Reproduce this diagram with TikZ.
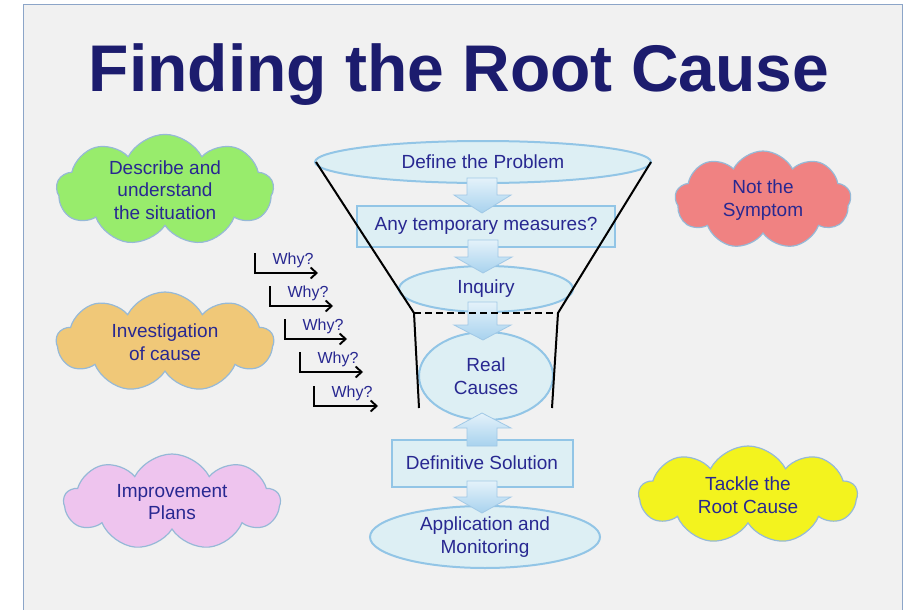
\documentclass[tikz,border=0pt]{standalone}
\usepackage{fontspec}
\setmainfont{Liberation Sans}
\usetikzlibrary{shapes.symbols,shapes.geometric,arrows.meta}
\definecolor{panelbg}{RGB}{241,241,241}
\definecolor{panelline}{RGB}{140,165,200}
\definecolor{titlecol}{RGB}{28,28,110}
\definecolor{txtcol}{RGB}{40,40,145}
\definecolor{ellfill}{RGB}{221,239,244}
\definecolor{ellline}{RGB}{146,197,230}
\definecolor{arrtop}{RGB}{228,242,250}
\definecolor{arrbot}{RGB}{168,210,238}
\definecolor{arrline}{RGB}{160,200,230}
\definecolor{cloudline}{RGB}{150,185,215}
\definecolor{cgreen}{RGB}{152,236,108}
\definecolor{corange}{RGB}{240,200,120}
\definecolor{cpink}{RGB}{238,196,238}
\definecolor{cred}{RGB}{240,130,130}
\definecolor{cyellow}{RGB}{243,243,30}
\tikzset{
  txt/.style={text=txtcol,font=\fontsize{19}{22.5}\selectfont,align=center},
  ellbox/.style={txt,ellipse,draw=ellline,line width=2pt,fill=ellfill,inner sep=0pt},
  rectbox/.style={txt,rectangle,draw=ellline,line width=2pt,fill=ellfill,inner sep=0pt},
  blockarrow/.style={draw=arrline,line width=0.8pt,top color=arrtop,bottom color=arrbot},
  funnel/.style={black,line width=2pt},
  cloudbox/.style={txt,cloud,cloud puffs=9,cloud puff arc=125,cloud ignores aspect,draw=cloudline,line width=1.2pt,inner sep=0pt},
  whyline/.style={black,line width=1.9pt,-{Straight Barb[length=6pt,width=11pt]}},
  whytxt/.style={text=txtcol,font=\fontsize{16}{18}\selectfont}
}
\begin{document}
\begin{tikzpicture}[x=1pt,y=-1pt]
\useasboundingbox (0,0) rectangle (913,610);
\fill[panelbg] (23,5) rectangle (902,610);
\draw[panelline,line width=1pt] (23,610) -- (23,5) -- (902,5) -- (902,610);

\node[titlecol,font=\fontsize{66}{70}\selectfont\bfseries,anchor=base] (title) at (459,92) {Finding the Root Cause};

% clouds
\node[cloudbox,fill=cgreen,minimum width=217,minimum height=100] (c1) at (165,190) {Describe and\\understand\\the situation};
\node[cloudbox,fill=corange,minimum width=217,minimum height=100] (c2) at (165,342) {Investigation\\of cause};
\node[cloudbox,fill=cpink,minimum width=216,minimum height=96] (c3) at (172,502) {Improvement\\Plans};
\node[cloudbox,fill=cred,minimum width=176,minimum height=98] (c4) at (763,200) {Not the\\Symptom};
\node[cloudbox,fill=cyellow,minimum width=218,minimum height=98] (c5) at (748,495) {Tackle the\\Root Cause};

% central nodes
\node[ellbox,minimum width=336,minimum height=42] (define) at (483,162) {Define the Problem};
\node[rectbox,minimum width=258,minimum height=41] (temp) at (486,226) {Any temporary measures?};
\node[ellbox,minimum width=174,minimum height=46] (inq) at (486,289) {Inquiry};
\node[ellbox,minimum width=134,minimum height=88] (real) at (486,376) {Real\\Causes};
\node[rectbox,minimum width=181,minimum height=47] (defsol) at (482,463) {Definitive Solution};
\node[ellbox,minimum width=230,minimum height=62] (app) at (485,537) {Application and\\Monitoring};

% block arrows
\draw[blockarrow] (467,178) -- (497,178) -- (497,195) -- (511,195) -- (482,213) -- (454,195) -- (467,195) -- cycle;
\draw[blockarrow] (468,240) -- (498,240) -- (498,257) -- (512,257) -- (483,273) -- (455,257) -- (468,257) -- cycle;
\draw[blockarrow] (468,302) -- (497,302) -- (497,325) -- (511,325) -- (483,340) -- (454,325) -- (468,325) -- cycle;
\draw[blockarrow] (467,446) -- (497,446) -- (497,428) -- (511,428) -- (482,413) -- (454,428) -- (467,428) -- cycle;
\draw[blockarrow] (467,481) -- (497,481) -- (497,497) -- (511,497) -- (482,513) -- (454,497) -- (467,497) -- cycle;

% funnel
\coordinate (fl1) at (316,162);
\coordinate (fl2) at (414,313);
\coordinate (fl3) at (419,408);
\coordinate (fr1) at (651,162);
\coordinate (fr2) at (558,313);
\coordinate (fr3) at (552,408);
\draw[funnel] (fl1) -- (fl2) -- (fl3);
\draw[funnel] (fr1) -- (fr2) -- (fr3);
\draw[black,line width=2pt,dash pattern=on 7pt off 4pt] (fl2) -- (fr2);

% why arrows
\foreach \i/\x/\y/\e in {1/255/253/318, 2/270/286/333, 3/285/319/347, 4/300/352/363, 5/314/386/378}{
  \coordinate (ws\i) at (\x,\y);
  \coordinate (we\i) at (\e,\y+20);
  \draw[whyline] (ws\i) |- (we\i);
  \node[whytxt,anchor=base west] (wt\i) at (\x+14,\y+11) {Why?};
}
\end{tikzpicture}
\end{document}
